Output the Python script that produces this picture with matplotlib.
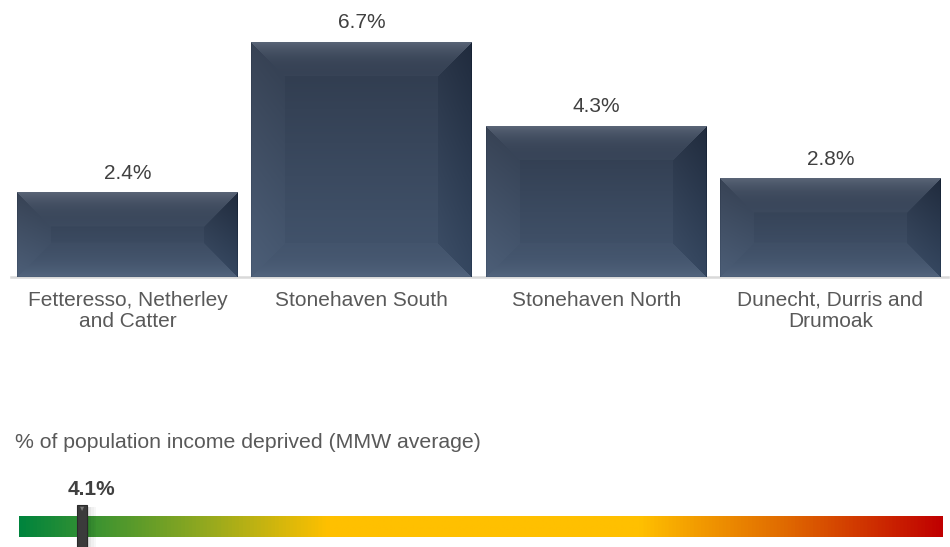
import numpy as np
import matplotlib
matplotlib.use("Agg")
import matplotlib.pyplot as plt
from matplotlib.colors import LinearSegmentedColormap, to_rgb
from matplotlib.patches import Rectangle, Polygon
import matplotlib.transforms as mtransforms

# ---------------- data ----------------
categories = ["Fetteresso, Netherley\nand Catter", "Stonehaven South",
              "Stonehaven North", "Dunecht, Durris and\nDrumoak"]
values = [2.4, 6.7, 4.3, 2.8]
value_labels = ["2.4%", "6.7%", "4.3%", "2.8%"]
avg_value = 4.1
avg_label = "4.1%"
scale_min, scale_max = 0, 60
title = "% of population income deprived (MMW average)"
y_max = 7.9

grad_stops = [0.0, 0.196, 0.334, 0.673, 0.738, 0.83, 1.0]
grad_colors = ["#00843d", "#8fa820", "#ffc000", "#ffc000", "#f29a00", "#e06a00", "#c00000"]

# ---------------- figure ----------------
FW, FH = 950, 547
fig = plt.figure(figsize=(FW / 100, FH / 100), dpi=100)
plt.rcParams['font.family'] = ['Liberation Sans', 'DejaVu Sans']

ax = fig.add_axes([10.5 / FW, 1 - 277 / FH, 937 / FW, 277 / FH])
x = np.arange(len(categories))
bars = ax.bar(x, values, width=0.943, color="#3a475c", zorder=2)

top_c = np.array(to_rgb("#2f3a4c"))
bot_c = np.array(to_rgb("#44566f"))


def bevel_texture(w, h, b=34):
    yy, xx = np.mgrid[0:h, 0:w].astype(float) + 0.5
    dl, dr, dt, db = xx, w - xx, yy, h - yy
    t = (yy / h)[..., None]
    img = top_c * (1 - t) + bot_c * t
    d = np.stack([dt, dl, dr, db])
    idx = np.argmin(d, axis=0)
    dmin = d.min(axis=0)
    inb = dmin < b
    f = np.clip(dmin / b, 0, 1)
    adj = np.zeros((h, w))
    m = inb & (idx == 0)
    adj[m] = 0.02 + 0.15 * (1 - f[m]) ** 2.5
    m = inb & (idx == 1)
    adj[m] = 0.015 + 0.02 * (1 - f[m])
    m = inb & (idx == 2)
    adj[m] = -(0.025 + 0.035 * (1 - f[m]))
    m = inb & (idx == 3)
    adj[m] = 0.01 + 0.05 * (1 - f[m]) ** 3
    img = img + adj[..., None]
    img[:, 0] -= 0.03
    img[:, -1] -= 0.04
    img[-1, :] -= 0.02
    return np.clip(img, 0, 1)


ax.set_xlim(-0.5, len(categories) - 0.5)
ax.set_ylim(0, y_max)
px_x = ax.bbox.width / len(categories)
px_y = ax.bbox.height / y_max
for bar in bars:
    w_px = max(2, int(round(bar.get_width() * px_x)))
    h_px = max(2, int(round(bar.get_height() * px_y)))
    tex = bevel_texture(w_px, h_px)
    ax.imshow(tex, extent=(bar.get_x(), bar.get_x() + bar.get_width(), 0, bar.get_height()),
              origin="upper", aspect="auto", zorder=3, interpolation="bilinear")

for bar, lab in zip(bars, value_labels):
    ax.annotate(lab, xy=(bar.get_x() + bar.get_width() / 2, bar.get_height()),
                xytext=(0, 14), textcoords="offset points", ha="center", va="center",
                fontsize=15, color="#404040")

ax.set_xlim(-0.5, len(categories) - 0.5)
ax.set_ylim(0, y_max)
ax.set_xticks(x)
ax.set_xticklabels(categories, fontsize=15, color="#595959", linespacing=1.12)
ax.tick_params(axis="x", length=0, pad=10)
ax.set_yticks([])
for s in ["top", "left", "right"]:
    ax.spines[s].set_visible(False)
ax.spines["bottom"].set_color("#d9d9d9")
ax.spines["bottom"].set_linewidth(1.8)

# ---------------- title ----------------
fig.text(15 / FW, 1 - 442 / FH, title, ha="left", va="center", fontsize=15.3, color="#595959")

# ---------------- gradient scale ----------------
ax2 = fig.add_axes([19 / FW, 1 - 537 / FH, 923 / FW, 21 / FH])
cmap = LinearSegmentedColormap.from_list("scale", list(zip(grad_stops, grad_colors)))
ax2.imshow(np.linspace(0, 1, 1024)[None, :], cmap=cmap, aspect="auto",
           extent=(scale_min, scale_max, 0, 1), interpolation="bilinear")
ax2.set_xlim(scale_min, scale_max)
ax2.set_ylim(0, 1)
ax2.axis("off")

trans = mtransforms.blended_transform_factory(ax2.transData, ax2.transAxes)
px_per_unit = ax2.bbox.width / (scale_max - scale_min)
mw = 10 / px_per_unit
y0, hgt = -0.5, 2.02
for i, a in enumerate([0.16, 0.10, 0.06, 0.03]):
    ax2.add_patch(Rectangle((avg_value + mw / 2 + i * mw * 0.22, y0), mw * 0.22, hgt - 0.1,
                            transform=trans, color="black", alpha=a, lw=0,
                            clip_on=False, zorder=4))
ax2.add_patch(Rectangle((avg_value - mw / 2, y0), mw, hgt, transform=trans,
                        facecolor="#3b3b3b", edgecolor="#2a2a2a", lw=0.8,
                        clip_on=False, zorder=5))
ax2.add_patch(Polygon([(avg_value - mw * 0.2, y0 + hgt - 0.08),
                       (avg_value + mw * 0.2, y0 + hgt - 0.08),
                       (avg_value, y0 + hgt - 0.28)], closed=True, transform=trans,
                      facecolor="#7a7a7a", lw=0, clip_on=False, zorder=6))
ax2.annotate(avg_label, xy=(avg_value, 1), xycoords=trans, xytext=(6.5, 19),
             textcoords="offset points", ha="center", va="center",
             fontsize=15, fontweight="bold", color="#404040")

fig.savefig("out.png", dpi=100)
